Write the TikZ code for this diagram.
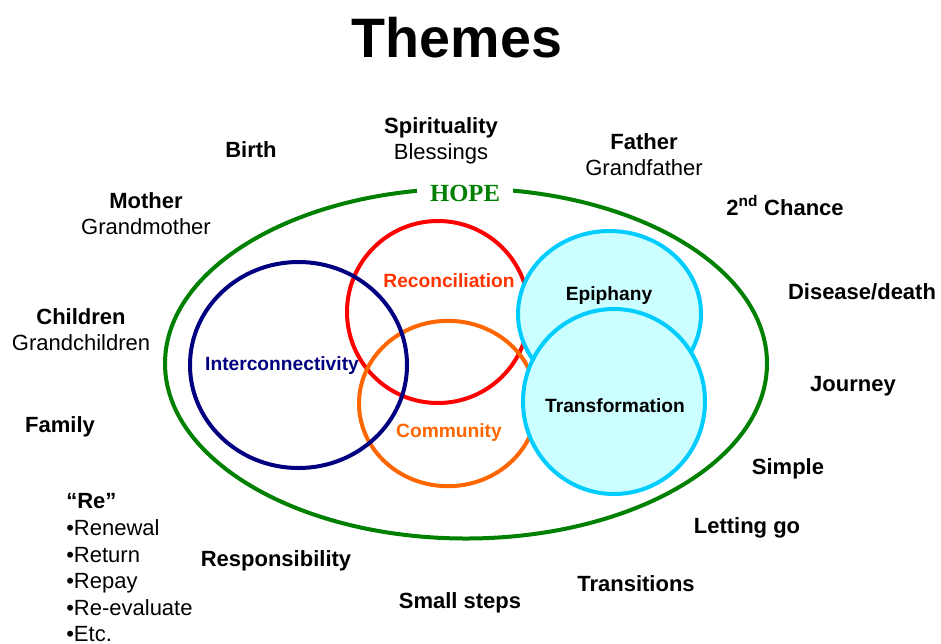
\documentclass[tikz,border=0pt]{standalone}
\usepackage{fontspec}
\setmainfont{Liberation Sans}
\newfontfamily\hopefont{Liberation Serif}
\usetikzlibrary{shapes.geometric}
\definecolor{hopegreen}{RGB}{0,128,0}
\definecolor{ringnavy}{RGB}{0,0,128}
\definecolor{ringred}{RGB}{255,0,0}
\definecolor{txtred}{RGB}{255,51,0}
\definecolor{ringorange}{RGB}{255,102,0}
\definecolor{ringcyan}{RGB}{0,204,255}
\definecolor{fillcyan}{RGB}{204,255,255}
\tikzset{
  lbl/.style={font=\fontsize{16.5pt}{19pt}\selectfont\bfseries, inner sep=0pt, anchor=base},
  lblr/.style={font=\fontsize{16.5pt}{19pt}\selectfont, inner sep=0pt, anchor=base},
  relist/.style={font=\fontsize{16.5pt}{19pt}\selectfont, inner sep=0pt, anchor=base west},
  ring/.style={ellipse, draw, line width=3pt, inner sep=0pt},
  ringlbl/.style={font=\fontsize{14.4pt}{17pt}\selectfont\bfseries, inner sep=0pt, anchor=base},
}
\begin{document}
\begin{tikzpicture}[x=0.75pt,y=-0.75pt]
\useasboundingbox (0,0) rectangle (941,643);
% title
\node[font=\fontsize{41.7pt}{48pt}\selectfont\bfseries, inner sep=0pt, anchor=base] (title) at (457,57) {Themes};
% big hope ellipse
\node[ring, draw=hopegreen, minimum width=451.5pt, minimum height=262.5pt] (hope) at (466,363.5) {};
\node[font=\fontsize{18.5pt}{21pt}\selectfont\hopefont\bfseries, text=hopegreen, fill=white, inner xsep=10pt, inner ysep=2pt] (hopelbl) at (465,193) {HOPE};
% inner rings
\node[ring, draw=ringred, minimum width=136.5pt, minimum height=136.5pt] (recon) at (438,312) {};
\node[ring, draw=ringorange, minimum width=133.5pt, minimum height=124pt] (comm) at (448,403.5) {};
\node[ring, draw=ringnavy, minimum width=162.75pt, minimum height=154.5pt] (inter) at (298.5,365) {};
\node[ring, draw=ringcyan, fill=fillcyan, minimum width=137.25pt, minimum height=124.5pt] (epiph) at (609.5,314) {};
\node[ring, draw=ringcyan, fill=fillcyan, minimum width=136.5pt, minimum height=138.75pt] (transf) at (614,401.5) {};
% ring labels
\node[ringlbl, text=txtred] (reconlbl) at (449,287) {Reconciliation};
\node[ringlbl, text=ringorange] (commlbl) at (449,437) {Community};
\node[ringlbl, text=ringnavy] (interlbl) at (282,370) {Interconnectivity};
\node[ringlbl] (epiphlbl) at (609,300) {Epiphany};
\node[ringlbl] (transflbl) at (615,412) {Transformation};
% outer labels
\node[lbl] (birth) at (251,157) {Birth};
\node[lbl] (spirit) at (441,133) {Spirituality};
\node[lblr] (bless) at (441,159) {Blessings};
\node[lbl] (father) at (644,149) {Father};
\node[lblr] (gfather) at (644,175) {Grandfather};
\node[lbl] (mother) at (146,208) {Mother};
\node[lblr] (gmother) at (146,234) {Grandmother};
\node[lbl] (chance) at (785,215) {2\textsuperscript{nd} Chance};
\node[lbl] (child) at (81,324) {Children};
\node[lblr] (gchild) at (81,350) {Grandchildren};
\node[lbl] (disease) at (862,299) {Disease/death};
\node[lbl] (journey) at (853,391) {Journey};
\node[lbl] (family) at (60,432) {Family};
\node[lbl] (simple) at (788,474) {Simple};
\node[lbl] (letting) at (747,533) {Letting go};
\node[lbl] (trans) at (636,591) {Transitions};
\node[lbl] (small) at (460,608) {Small steps};
\node[lbl] (resp) at (276,566) {Responsibility};
% Re list
\node[relist, font=\fontsize{16.5pt}{19pt}\selectfont\bfseries] (re0) at (66,508) {“Re”};
\node[relist] (re1) at (66,535) {\textbullet Renewal};
\node[relist] (re2) at (66,562) {\textbullet Return};
\node[relist] (re3) at (66,588) {\textbullet Repay};
\node[relist] (re4) at (66,615) {\textbullet Re-evaluate};
\node[relist] (re5) at (66,641) {\textbullet Etc.};
\end{tikzpicture}
\end{document}
